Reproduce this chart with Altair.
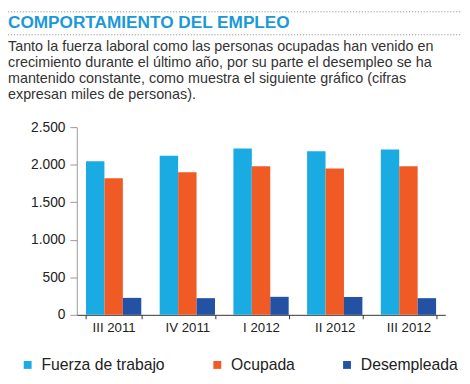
import altair as alt
import pandas as pd

quarters = ["III 2011", "IV 2011", "I 2012", "II 2012", "III 2012"]
fuerza = [2045, 2120, 2215, 2178, 2203]
ocupada = [1820, 1898, 1980, 1950, 1980]
desempleada = [226, 222, 240, 238, 222]
series = ["Fuerza de trabajo", "Ocupada", "Desempleada"]
colors = ["#1aabe3", "#f05a24", "#2352a5"]
y_ticks = [0, 500, 1000, 1500, 2000, 2500]
title_text = "COMPORTAMIENTO DEL EMPLEO"
subtitle_lines = [
    "Tanto la fuerza laboral como las personas ocupadas han venido en",
    "crecimiento durante el último año, por su parte el desempleo se ha",
    "mantenido constante, como muestra el siguiente gráfico (cifras",
    "expresan miles de personas).",
]

rows = []
for i, q in enumerate(quarters):
    for s, vals in zip(series, [fuerza, ocupada, desempleada]):
        rows.append({"trimestre": q, "serie": s, "valor": vals[i]})
df = pd.DataFrame(rows)
one = pd.DataFrame({"k": [0]})

SANS = "Liberation Sans, Arial, sans-serif"

bars = alt.Chart(df).mark_bar().encode(
    x=alt.X(
        "trimestre:N",
        sort=quarters,
        scale=alt.Scale(paddingInner=0.25, paddingOuter=0.125),
        axis=alt.Axis(
            title=None, labelAngle=0, tickBand="extent", tickSize=4,
            tickColor="#333", domainColor="#333", labelPadding=2,
            labelFont=SANS, labelFontSize=13.5, labelColor="#222",
        ),
    ),
    xOffset=alt.XOffset("serie:N", sort=series,
                        scale=alt.Scale(paddingInner=0, paddingOuter=0)),
    y=alt.Y(
        "valor:Q",
        scale=alt.Scale(domain=[0, 2500], nice=False),
        axis=alt.Axis(
            title=None, values=y_ticks, grid=False, tickSize=7,
            tickColor="#999", domainColor="#999", labelPadding=5,
            labelFont=SANS, labelFontSize=14, labelColor="#222",
            labelExpr="replace(format(datum.value, ','), ',', '.')",
        ),
    ),
    color=alt.Color(
        "serie:N", sort=series,
        scale=alt.Scale(domain=series, range=colors),
        legend=alt.Legend(
            title=None, orient="none", direction="horizontal",
            legendX=-58, legendY=234, padding=0, columnPadding=45,
            symbolType="square", symbolSize=64, symbolStrokeWidth=0,
            labelOffset=6, labelFont=SANS, labelFontSize=16,
            labelColor="#222",
        ),
    ),
)

title = alt.Chart(one).mark_text(
    align="left", baseline="alphabetic", font=SANS, fontSize=17.5,
    fontWeight="bold", color="#1a9ad8",
).encode(x=alt.value(-70), y=alt.value(-101), text=alt.value(title_text))

subtitle = alt.Chart(one).mark_text(
    align="left", baseline="alphabetic", font=SANS, fontSize=14.6,
    color="#333", lineHeight=16.2,
).encode(x=alt.value(-70), y=alt.value(-77), text=alt.value(subtitle_lines))

rule1 = alt.Chart(one).mark_rule(
    strokeDash=[1.2, 1.8], color="#999", strokeWidth=1.2
).encode(x=alt.value(-70), x2=alt.value(392), y=alt.value(-117.4))

rule2 = alt.Chart(one).mark_rule(
    strokeDash=[1.2, 1.8], color="#999", strokeWidth=1.2
).encode(x=alt.value(-70), x2=alt.value(392), y=alt.value(-94))

chart = alt.layer(rule1, rule2, title, subtitle, bars).properties(
    width=375, height=191,
    autosize=alt.AutoSizeParams(type="none"),
    padding={"left": 70, "top": 118, "right": 17, "bottom": 59},
).configure_view(stroke=None)

chart.save("out.html", embed_options={"renderer": "svg", "actions": False})
